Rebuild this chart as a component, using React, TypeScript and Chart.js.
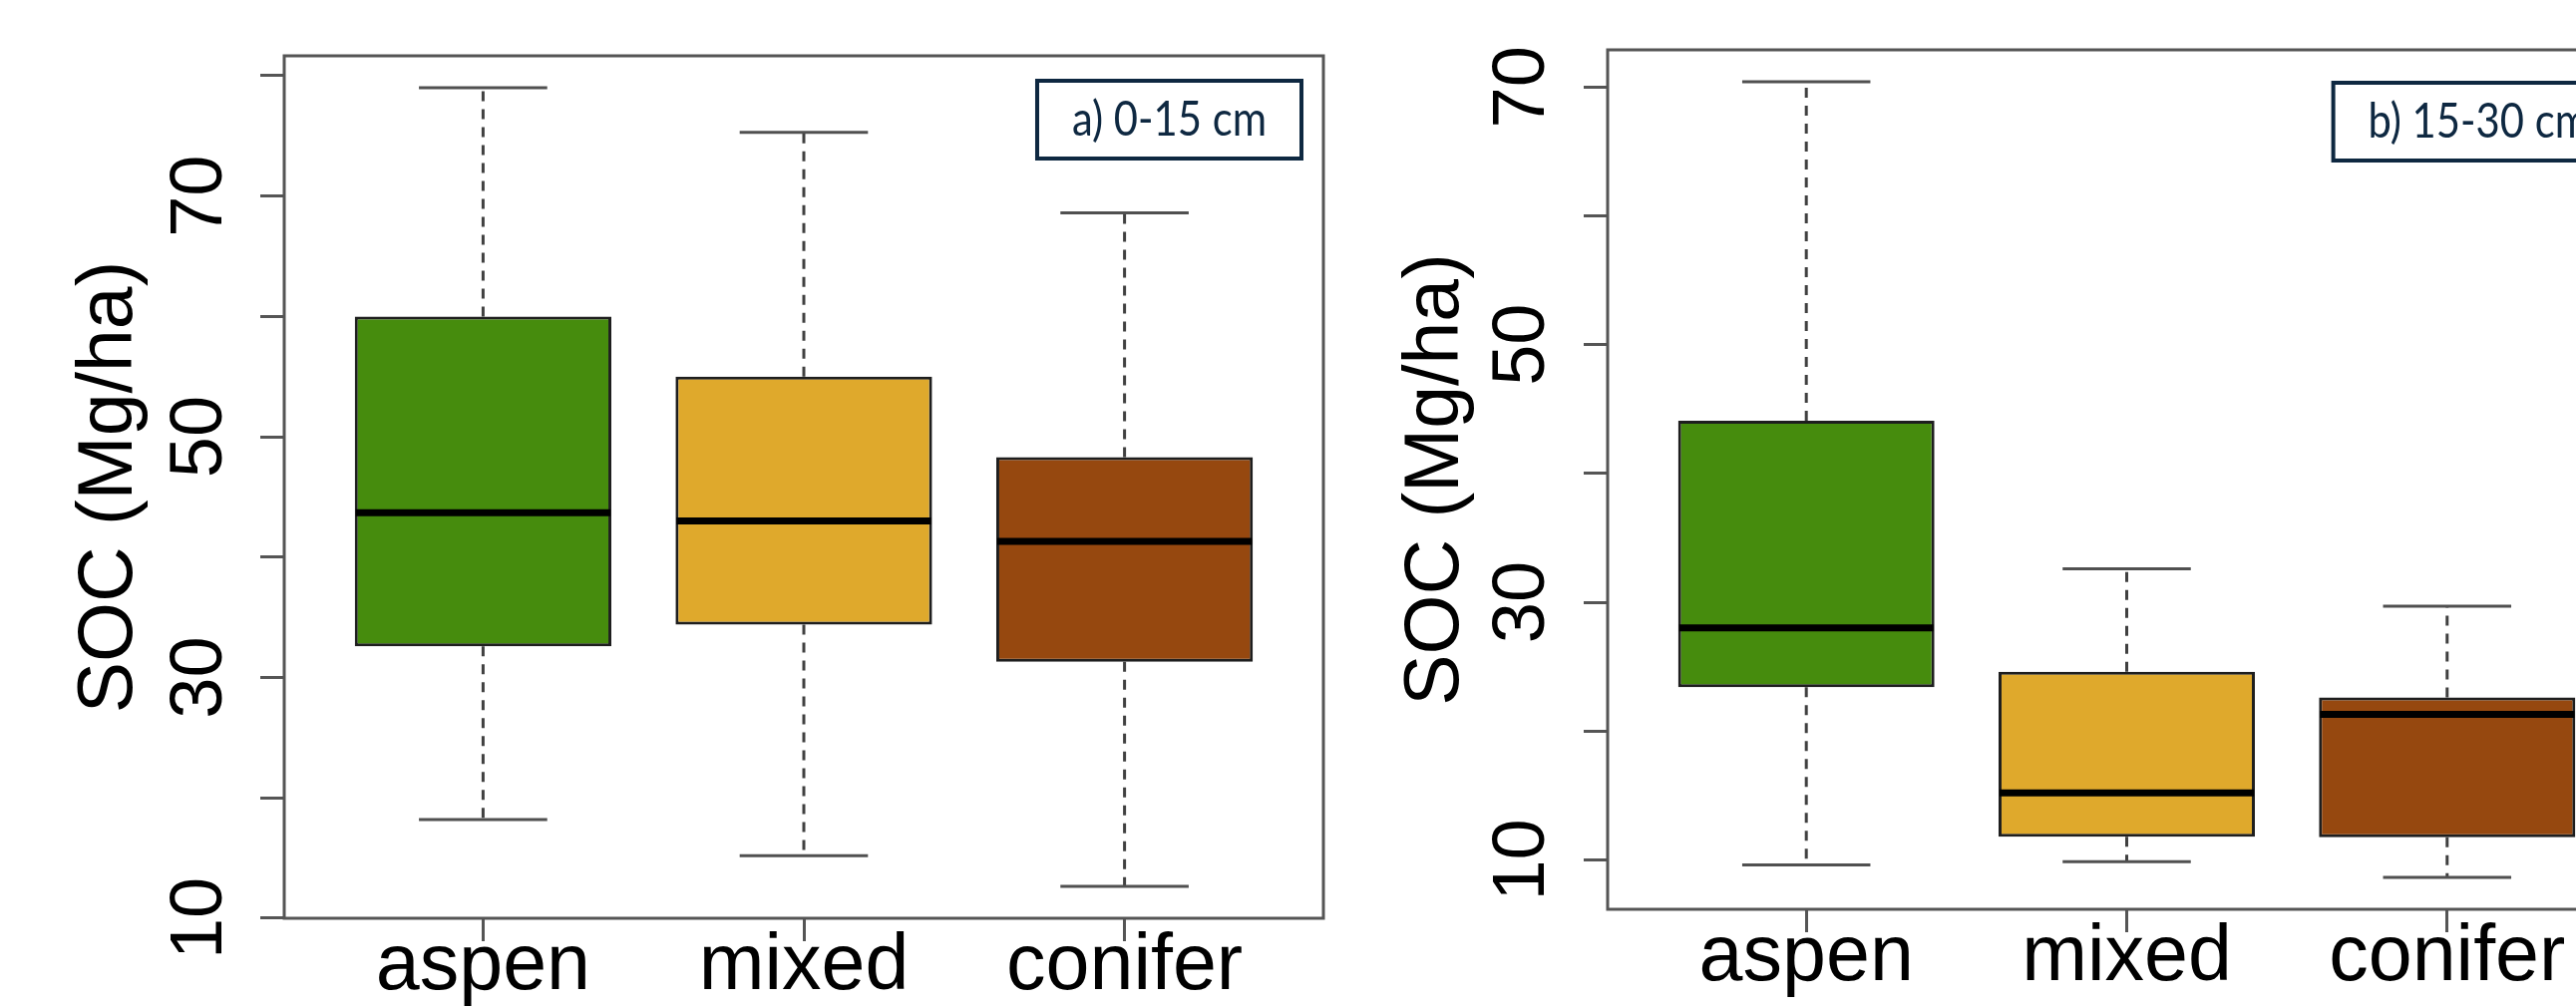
import React, { useEffect, useRef } from 'react';
import { Chart, registerables } from 'chart.js';

Chart.register(...registerables);

// ---------- data ----------
const CATEGORIES = ['aspen', 'mixed', 'conifer'];
const BOX_COLORS = ['#468c0d', '#dfa92c', '#96480f'];

// panel a) 0-15 cm : five-number summaries per category
const A_WHISKER_LOW = [18.2, 15.2, 12.65];
const A_Q1 = [32.6, 34.4, 31.3];
const A_MEDIAN = [43.7, 43.0, 41.3];
const A_Q3 = [60.0, 55.0, 48.3];
const A_WHISKER_HIGH = [79.0, 75.3, 68.6];

// panel b) 15-30 cm
const B_WHISKER_LOW = [9.6, 9.85, 8.63];
const B_Q1 = [23.4, 11.8, 11.75];
const B_MEDIAN = [28.0, 15.2, 21.3];
const B_Q3 = [44.1, 24.6, 22.6];
const B_WHISKER_HIGH = [70.42, 32.6, 29.7];

const A_Y_TICKS = [10, 20, 30, 40, 50, 60, 70, 80];
const B_Y_TICKS = [10, 20, 30, 40, 50, 60, 70];
const Y_TICK_LABELS = [10, 30, 50, 70];
const Y_TITLE = 'SOC (Mg/ha)';
const A_TAG = 'a) 0-15 cm';
const B_TAG = 'b) 15-30 cm';

// ---------- styling / layout ----------
const FONT = "'Liberation Sans', Arial, Helvetica, sans-serif";
const BOX_HALF = 0.4; // boxwex 0.8
const CAP_HALF = 0.2; // staplewex 0.5

type Spec = {
  id: string;
  tag: string;
  low: number[];
  q1: number[];
  med: number[];
  q3: number[];
  high: number[];
  yTicks: number[];
  left: number;
  width: number;
  padTop: number;
  padRight: number;
  yWidth: number;
  xHeight: number;
  titlePad: number;
  tickPad: number;
  tagTop: number;
};

const PANELS: Spec[] = [
  {
    id: 'a', tag: A_TAG, low: A_WHISKER_LOW, q1: A_Q1, med: A_MEDIAN, q3: A_Q3, high: A_WHISKER_HIGH,
    yTicks: A_Y_TICKS, left: 0, width: 1390, padTop: 56, padRight: 63, yWidth: 285, xHeight: 90,
    titlePad: 72, tickPad: 18, tagTop: 25,
  },
  {
    id: 'b', tag: B_TAG, low: B_WHISKER_LOW, q1: B_Q1, med: B_MEDIAN, q3: B_Q3, high: B_WHISKER_HIGH,
    yTicks: B_Y_TICKS, left: 1390, width: 1300, padTop: 50, padRight: 37, yWidth: 222, xHeight: 99,
    titlePad: 12, tickPad: 19, tagTop: 33,
  },
];

const framePlugin = {
  id: 'panelFrame',
  afterDraw(chart: any, _args: any, opts: any) {
    const { ctx, chartArea: a } = chart;
    ctx.save();
    ctx.strokeStyle = '#555555';
    ctx.lineWidth = 3;
    ctx.strokeRect(a.left, a.top, a.right - a.left, a.bottom - a.top);
    if (opts && opts.tag) {
      const sx = 0.87;
      ctx.font = "48px Lato, 'Open Sans', sans-serif";
      const tw = ctx.measureText(opts.tag).width * sx;
      const w = tw + 70;
      const h = 78;
      const x = a.right - opts.tagRight - w;
      const y = a.top + opts.tagTop;
      ctx.fillStyle = '#ffffff';
      ctx.fillRect(x, y, w, h);
      ctx.strokeStyle = '#0e2841';
      ctx.lineWidth = 4;
      ctx.strokeRect(x, y, w, h);
      ctx.fillStyle = '#0e2841';
      ctx.textAlign = 'center';
      ctx.textBaseline = 'middle';
      ctx.translate(x + w / 2, y + h / 2 + 1);
      ctx.scale(sx, 1);
      ctx.fillText(opts.tag, 0, 0);
    }
    ctx.restore();
  },
};

function pxSpan(chart: any, d: number) {
  const s = chart.scales.x;
  return Math.abs(s.getPixelForValue(1 + d) - s.getPixelForValue(1));
}

function BoxPanel({ spec }: { spec: Spec }) {
  const ref = useRef<HTMLCanvasElement>(null);
  useEffect(() => {
    const canvas = ref.current;
    if (!canvas) return;
    const lo = Math.min(...spec.low);
    const hi = Math.max(...spec.high);
    const ext = 0.04 * (hi - lo);

    const whiskers: any[] = [];
    const caps: any[] = [];
    CATEGORIES.forEach((_, i) => {
      const x = i + 1;
      whiskers.push({ x, y: spec.q3[i] }, { x, y: spec.high[i] }, { x, y: null });
      whiskers.push({ x, y: spec.q1[i] }, { x, y: spec.low[i] }, { x, y: null });
      caps.push({ x, y: spec.high[i] }, { x, y: spec.low[i] });
    });

    const chart = new Chart(canvas, {
      type: 'bar',
      data: {
        datasets: [
          {
            type: 'scatter',
            label: 'median',
            data: CATEGORIES.map((_, i) => ({ x: i + 1, y: spec.med[i] })),
            pointStyle: 'line',
            pointRadius: (c: any) => pxSpan(c.chart, BOX_HALF) - 1,
            pointBorderWidth: 7,
            pointBorderColor: '#000000',
            pointBackgroundColor: '#000000',
            order: 0,
          } as any,
          {
            type: 'scatter',
            label: 'caps',
            data: caps,
            pointStyle: 'line',
            pointRadius: (c: any) => pxSpan(c.chart, CAP_HALF),
            pointBorderWidth: 3,
            pointBorderColor: '#505050',
            pointBackgroundColor: '#505050',
            order: 1,
          } as any,
          {
            type: 'bar',
            label: 'box',
            data: CATEGORIES.map((_, i) => ({ x: i + 1, y: [spec.q1[i], spec.q3[i]] })),
            backgroundColor: BOX_COLORS,
            borderColor: '#1e1e1e',
            borderWidth: 3,
            borderSkipped: false,
            barPercentage: 0.8,
            categoryPercentage: 1,
            order: 2,
          } as any,
          {
            type: 'line',
            label: 'whiskers',
            data: whiskers,
            borderColor: '#404040',
            borderWidth: 3,
            borderDash: [10, 8],
            pointRadius: 0,
            fill: false,
            spanGaps: false,
            order: 3,
          } as any,
        ],
      },
      options: {
        responsive: false,
        animation: false,
        devicePixelRatio: 1,
        events: [],
        layout: { padding: { left: 0, top: spec.padTop, right: spec.padRight, bottom: 0 } },
        plugins: {
          legend: { display: false },
          tooltip: { enabled: false },
          title: { display: false },
          panelFrame: { tag: spec.tag, tagTop: spec.tagTop, tagRight: 22 },
        } as any,
        scales: {
          x: {
            type: 'linear',
            position: 'bottom',
            min: 0.38,
            max: 3.62,
            offset: false,
            afterBuildTicks: (s: any) => {
              s.ticks = CATEGORIES.map((_, i) => ({ value: i + 1 }));
            },
            afterFit: (s: any) => {
              s.height = spec.xHeight;
              s.paddingLeft = 0;
              s.paddingRight = 0;
            },
            ticks: {
              autoSkip: false,
              maxRotation: 0,
              minRotation: 0,
              padding: -13,
              color: '#000000',
              font: { family: FONT, size: 79, lineHeight: 1 },
              callback: (v: any) => CATEGORIES[Math.round(Number(v)) - 1] ?? '',
            },
            grid: {
              drawOnChartArea: false,
              offset: false,
              drawTicks: true,
              tickLength: 23,
              tickWidth: 3,
              tickColor: '#555555',
            },
            border: { display: false },
          } as any,
          y: {
            type: 'linear',
            position: 'left',
            min: lo - ext,
            max: hi + ext,
            beginAtZero: false,
            afterBuildTicks: (s: any) => {
              s.ticks = spec.yTicks.map((v) => ({ value: v }));
            },
            afterFit: (s: any) => {
              s.width = spec.yWidth;
              s.paddingTop = 0;
              s.paddingBottom = 0;
            },
            ticks: {
              autoSkip: false,
              minRotation: 90,
              maxRotation: 90,
              crossAlign: 'center',
              padding: spec.tickPad,
              color: '#000000',
              font: { family: FONT, size: 74, lineHeight: 1 },
              callback: (v: any) => (Y_TICK_LABELS.includes(Number(v)) ? String(v) : ''),
            },
            grid: {
              drawOnChartArea: false,
              drawTicks: true,
              tickLength: 24,
              tickWidth: 3,
              tickColor: '#555555',
            },
            border: { display: false },
            title: {
              display: true,
              text: Y_TITLE,
              color: '#000000',
              font: { family: FONT, size: 77, lineHeight: 1 },
              padding: { top: spec.titlePad, bottom: 0 },
            },
          } as any,
        },
      },
      plugins: [framePlugin as any],
    });
    return () => chart.destroy();
  }, [spec]);

  return (
    <canvas
      ref={ref}
      width={spec.width}
      height={1011}
      style={{ position: 'absolute', left: spec.left, top: 0, display: 'block' }}
    />
  );
}

export default function App() {
  return (
    <div
      style={{
        position: 'fixed',
        left: 0,
        top: 0,
        width: 2583,
        height: 1011,
        overflow: 'hidden',
        background: '#ffffff',
      }}
    >
      {PANELS.map((p) => (
        <BoxPanel key={p.id} spec={p} />
      ))}
    </div>
  );
}
